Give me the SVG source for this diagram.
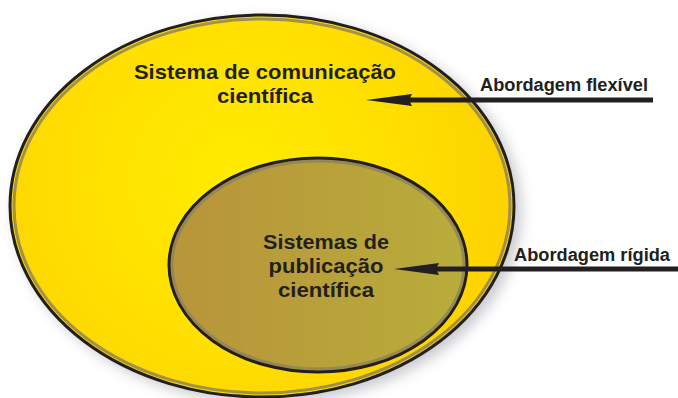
<svg xmlns="http://www.w3.org/2000/svg" width="678" height="398" viewBox="0 0 678 398">
  <defs>
    <radialGradient id="gOuter" cx="235" cy="180" r="280" gradientUnits="userSpaceOnUse">
      <stop offset="0" stop-color="#FFEC00"/>
      <stop offset="0.6" stop-color="#FFDF00"/>
      <stop offset="1" stop-color="#FDD200"/>
    </radialGradient>
    <linearGradient id="gInner" x1="0" y1="0" x2="1" y2="0">
      <stop offset="0" stop-color="#B8953A"/>
      <stop offset="0.5" stop-color="#B8A03A"/>
      <stop offset="1" stop-color="#B8AD3C"/>
    </linearGradient>
    <filter id="shadow" x="-20%" y="-20%" width="140%" height="140%">
      <feGaussianBlur stdDeviation="7"/>
    </filter>
    <filter id="lshadow" x="-5%" y="-100%" width="110%" height="300%">
      <feGaussianBlur stdDeviation="0.8"/>
    </filter>
    <style>
      .lbl { font-family: "Liberation Sans", Arial, sans-serif; font-weight: bold; fill: #231f20; }
      .big { font-size: 21px; text-anchor: middle; }
      .small { font-size: 18px; }
      .edge { stroke: #231f20; stroke-width: 3; fill: none; }
      .band { stroke: #8f8458; stroke-width: 3; fill: none; opacity: 0.85; }
      .conn { stroke: #231f20; stroke-width: 5; fill: none; }
      .head { fill: #231f20; }
    </style>
  </defs>

  <rect width="678" height="398" fill="#ffffff"/>

  <g id="outer">
    <ellipse cx="268" cy="211" rx="253" ry="192" fill="#9a9ca4" opacity="0.55" filter="url(#shadow)"/>
    <ellipse cx="262" cy="206" rx="252" ry="191" fill="url(#gOuter)"/>
    <ellipse class="band" cx="262" cy="206" rx="248" ry="187"/>
    <ellipse class="edge" cx="262" cy="206" rx="252" ry="191"/>
    <text class="lbl big" x="265" y="79" textLength="262" lengthAdjust="spacingAndGlyphs">Sistema de comunicação</text>
    <text class="lbl big" x="265" y="103" textLength="96" lengthAdjust="spacingAndGlyphs">científica</text>
  </g>

  <g id="inner">
    <ellipse cx="318" cy="265" rx="149" ry="107" fill="url(#gInner)"/>
    <ellipse class="band" cx="318" cy="265" rx="146" ry="104"/>
    <ellipse class="edge" cx="318" cy="265" rx="149" ry="107"/>
    <text class="lbl big" x="326" y="249" textLength="126" lengthAdjust="spacingAndGlyphs">Sistemas de</text>
    <text class="lbl big" x="326" y="273" textLength="115" lengthAdjust="spacingAndGlyphs">publicação</text>
    <text class="lbl big" x="326" y="297" textLength="96" lengthAdjust="spacingAndGlyphs">científica</text>
  </g>

  <g id="label-flexivel">
    <text class="lbl small" x="480" y="91" textLength="168" lengthAdjust="spacingAndGlyphs">Abordagem flexível</text>
  </g>
  <g id="label-rigida">
    <text class="lbl small" x="514" y="261" textLength="156" lengthAdjust="spacingAndGlyphs">Abordagem rígida</text>
  </g>

  <g id="connectors">
    <line x1="408" y1="101.5" x2="653" y2="101.5" stroke="#888" stroke-width="5" filter="url(#lshadow)" opacity="0.7"/>
    <line class="conn" x1="408" y1="100" x2="653" y2="100"/>
    <polygon class="head" points="366,100 412,94 409,100 412,106"/>
    <line x1="434" y1="270.5" x2="678" y2="270.5" stroke="#888" stroke-width="5" filter="url(#lshadow)" opacity="0.7"/>
    <line class="conn" x1="434" y1="269" x2="678" y2="269"/>
    <polygon class="head" points="394,269 439,263 436,269 439,275"/>
  </g>
</svg>
